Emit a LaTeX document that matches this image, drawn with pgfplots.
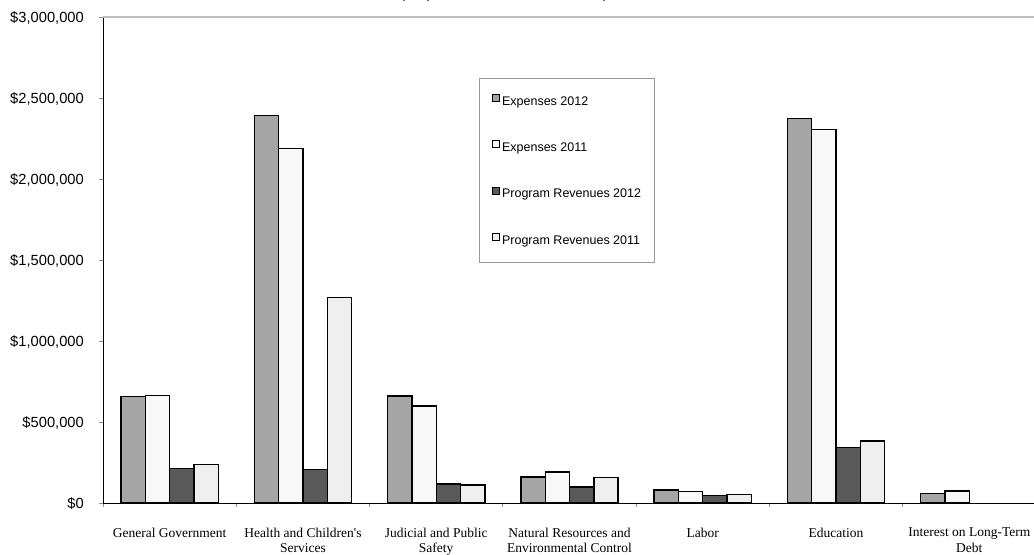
\documentclass[border=0pt]{standalone}
\usepackage{fontspec}
\setmainfont{Liberation Sans}
\newfontfamily\timesfont{Liberation Serif}
\usepackage{pgfplots}
\pgfplotsset{compat=1.18}

\definecolor{expA}{HTML}{A5A5A5}
\definecolor{expB}{HTML}{F8F8F8}
\definecolor{revA}{HTML}{595959}
\definecolor{revB}{HTML}{EFEFEF}
\definecolor{tickgray}{HTML}{8C8C8C}

\pgfplotsset{
  sq legend/.style={
    legend image code/.code={
      \draw[##1, line width=1bp] (0bp,-0.3bp) rectangle (7bp,6.7bp);
      \path (8.5bp,0bp);
    }
  }
}

\begin{document}
\begin{tikzpicture}
\begin{axis}[
  width=933bp, height=486bp, scale only axis,
  clip=false,
  xmin=-0.5, xmax=6.5, ymin=0, ymax=3000000,
  ybar=0pt, bar width=24.3bp,
  axis lines*=left,
  axis line style={-, black, line width=0.9bp},
  scaled y ticks=false,
  tick align=outside,
  major tick length=4bp, minor tick length=4bp,
  ytick={0,500000,1000000,1500000,2000000,2500000,3000000},
  yticklabels={{\$0},{\$500,000},{\$1,000,000},{\$1,500,000},{\$2,000,000},{\$2,500,000},{\$3,000,000}},
  major y tick style={tickgray, line width=0.8bp},
  xtick={0,...,6},
  minor xtick={-0.5,0.5,1.5,2.5,3.5,4.5,5.5,6.5},
  major x tick style={draw=none},
  minor x tick style={tickgray, line width=0.8bp},
  xticklabels={
    {General Government},
    {Health and Children's\\Services},
    {Judicial and Public\\Safety},
    {Natural Resources and\\Environmental Control},
    {Labor},
    {Education},
    {Interest on Long-Term\\Debt}},
  xticklabel style={font=\timesfont\fontsize{13.5bp}{15.5bp}\selectfont,
    align=center, inner sep=0pt, anchor=north, yshift=-20.5bp},
  yticklabel style={font=\fontsize{14.7bp}{16bp}\selectfont,
    anchor=base east, inner sep=0pt, xshift=-15bp, yshift=-5.2bp},
  legend style={
    at={(0.403,0.875)}, anchor=north west,
    draw=black!40, line width=0.8bp,
    font=\fontsize{12.5bp}{15bp}\selectfont,
    inner xsep=13bp, inner ysep=15.5bp,
    row sep=33bp,
    nodes={inner sep=0pt, text height=10.5bp, text depth=2bp},
  },
  legend cell align=left,
]
\addplot[fill=expA, draw=black, line width=1.4bp, sq legend] coordinates
  {(0,656000) (1,2391000) (2,660000) (3,160000) (4,80000) (5,2372000) (6,60000)};
\addplot[fill=expB, draw=black, line width=1.4bp, sq legend] coordinates
  {(0,662000) (1,2189000) (2,599000) (3,191000) (4,72000) (5,2304000) (6,74000)};
\addplot[fill=revA, draw=black, line width=1.4bp, sq legend] coordinates
  {(0,214000) (1,208000) (2,117000) (3,99000) (4,45000) (5,341000)};
\addplot[fill=revB, draw=black, line width=1.4bp, sq legend] coordinates
  {(0,239000) (1,1267000) (2,111000) (3,158000) (4,51000) (5,383000)};
\legend{Expenses 2012, Expenses 2011, Program Revenues 2012, Program Revenues 2011}

% top frame line of the plot area
\draw[black!25, line width=1.6bp] (rel axis cs:0,1) -- (rel axis cs:1,1);
% heading, set above the plot area
\node[anchor=base, font=\fontsize{18bp}{20bp}\selectfont, yshift=19.5bp]
  at (rel axis cs:0.43,1) {(Expressed in Thousands)};
\coordinate (bl) at (rel axis cs:0,0);
\end{axis}
\pgfresetboundingbox
\path[use as bounding box] ([xshift=-103bp,yshift=-52bp]bl) rectangle ([xshift=931bp,yshift=503bp]bl);
\end{tikzpicture}
\end{document}
